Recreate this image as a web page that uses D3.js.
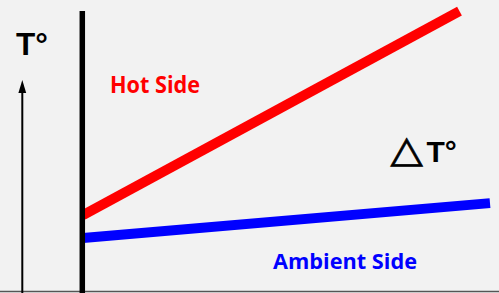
<!DOCTYPE html>
<html><head><meta charset="utf-8">
<script src="https://cdn.jsdelivr.net/npm/d3@7"></script>
<style>html,body{margin:0;padding:0;background:#f2f2f2;}svg{display:block;}</style>
</head><body>
<svg id="chart" width="499" height="293"></svg>
<script>
// Data (relative position 0-100 along the wall, temperature 0-100)
const series = ["Hot Side", "Ambient Side"];
const positions = [0, 92.5];
const ambientPositions = [0, 100];
const hotTemps = [26.1, 96.2];
const ambientTemps = [18.2, 30.2];
const colors = ["#ff0000", "#0000ff"];

const svg = d3.select("#chart");
const W = 499, H = 293;
svg.append("rect").attr("width", W).attr("height", H).attr("fill", "#f2f2f2");

const x = d3.scaleLinear().domain([0, 100]).range([83, 490]);
const y = d3.scaleLinear().domain([0, 100]).range([291, 0]);

// baseline
svg.append("line").attr("x1", 0).attr("x2", W).attr("y1", 291.5).attr("y2", 291.5)
  .attr("stroke", "#555").attr("stroke-width", 1.5);

// lines
const line = d3.line().x(d => x(d[0])).y(d => y(d[1]));
const hotData = positions.map((p, i) => [p, hotTemps[i]]);
const ambData = ambientPositions.map((p, i) => [p, ambientTemps[i]]);
svg.append("path").attr("d", line(hotData)).attr("fill", "none")
  .attr("stroke", colors[0]).attr("stroke-width", 10).attr("stroke-linecap", "butt");
svg.append("path").attr("d", line(ambData)).attr("fill", "none")
  .attr("stroke", colors[1]).attr("stroke-width", 10).attr("stroke-linecap", "butt");

// wall
svg.append("line").attr("x1", 82.3).attr("x2", 82.3).attr("y1", 11).attr("y2", 293)
  .attr("stroke", "#000").attr("stroke-width", 5.5);

// T arrow
svg.append("line").attr("x1", 22.3).attr("x2", 22.3).attr("y1", 90).attr("y2", 293)
  .attr("stroke", "#000").attr("stroke-width", 2);
svg.append("path").attr("d", "M22.3,80 L26.2,93 L18.4,93 Z").attr("fill", "#000");

svg.append("text").attr("x", 16).attr("y", 54.5).text("T°")
  .attr("font-family", "Liberation Sans, Arial, sans-serif").attr("font-weight", "bold")
  .attr("font-size", 31.5).attr("fill", "#000");

// Delta T
svg.append("text").attr("x", 390.5).attr("y", 162).text("△")
  .attr("font-family", "DejaVu Sans, sans-serif").attr("font-size", 40)
  .attr("fill", "#000").attr("stroke", "#000").attr("stroke-width", 0.8)
  .attr("transform", "translate(390.5,162) scale(1.05,0.92) translate(-390.5,-162)");
svg.append("text").attr("x", 426.5).attr("y", 161.7).text("T°")
  .attr("font-family", "Liberation Sans, Arial, sans-serif").attr("font-weight", "bold")
  .attr("font-size", 30).attr("fill", "#000");

// series labels
svg.append("text").attr("x", 110).attr("y", 92.5).text(series[0])
  .attr("font-family", "Open Sans, sans-serif").attr("font-weight", "bold")
  .attr("font-size", 23).attr("fill", colors[0])
  .attr("textLength", 90).attr("lengthAdjust", "spacingAndGlyphs");
svg.append("text").attr("x", 273).attr("y", 269.3).text(series[1])
  .attr("font-family", "Open Sans, sans-serif").attr("font-weight", "bold")
  .attr("font-size", 22).attr("fill", colors[1])
  .attr("textLength", 144).attr("lengthAdjust", "spacingAndGlyphs");
</script>
</body></html>
